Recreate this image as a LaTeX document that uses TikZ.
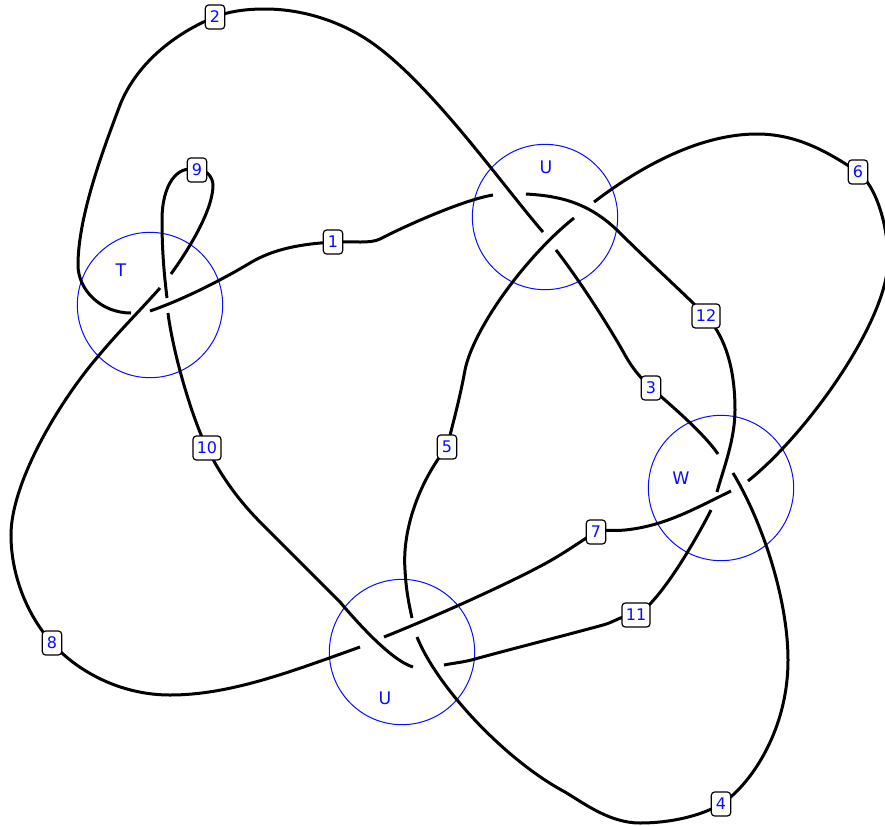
\documentclass[tikz,border=0pt]{standalone}
\usepackage{fontspec}
\setmainfont{DejaVu Sans}
\usetikzlibrary{backgrounds}
\definecolor{lab}{RGB}{10,10,255}
\tikzset{
  strand/.style={draw=black,line width=2.25pt,line cap=butt},
  ring/.style={draw=lab,circle,line width=0.75pt,minimum size=109pt,inner sep=0pt},
  tag/.style={draw=black,fill=white,rounded corners=2.5pt,line width=0.9pt,text=lab,font=\fontsize{12}{14}\selectfont,inner sep=0pt,minimum height=18pt,minimum width=14.5pt},
  tagwide/.style={tag,minimum width=21pt},
  vlabel/.style={text=lab,font=\fontsize{13}{15}\selectfont,inner sep=0pt}
}
\begin{document}
\begin{tikzpicture}[x=0.75pt,y=-0.75pt]
\useasboundingbox (0,0) rectangle (885,825);
\node[tag] (n1) at (333,242) {1};
\node[tag] (n2) at (215,17) {2};
\node[tag] (n3) at (651,388) {3};
\node[tag] (n4) at (721,804) {4};
\node[tag] (n5) at (447,447) {5};
\node[tag] (n6) at (858,172) {6};
\node[tag] (n7) at (596,532) {7};
\node[tag] (n8) at (52,643) {8};
\node[tag] (n9) at (197,170) {9};
\node[tagwide] (n10) at (207,448) {10};
\node[tagwide] (n11) at (636,615) {11};
\node[tagwide] (n12) at (706,316) {12};
\node[vlabel] (lt) at (121,270) {T};
\node[vlabel] (lu) at (546,167) {U};
\node[vlabel] (lw) at (681,478) {W};
\node[vlabel] (lv) at (385,698) {U};
\coordinate (a1) at (150,311); \coordinate (b1) at (493,195);
\coordinate (a2) at (131,313); \coordinate (b2) at (543,232);
\coordinate (a3) at (556,250); \coordinate (b3) at (718,454);
\coordinate (a4) at (733,473); \coordinate (b4) at (417,637);
\coordinate (a5) at (574,218); \coordinate (b5) at (412,618);
\coordinate (a6) at (594,202); \coordinate (b6) at (748,481);
\coordinate (a7) at (384,637); \coordinate (b7) at (731,491);
\coordinate (a8) at (360,647); \coordinate (b8) at (160,288);
\coordinate (a9) at (171,274); \coordinate (b9) at (167,298);
\coordinate (a10) at (168,313); \coordinate (b10) at (413,667);
\coordinate (a11) at (444,665); \coordinate (b11) at (711,510);
\coordinate (a12) at (526,194); \coordinate (b12) at (717,492);
\begin{scope}[on background layer]
\node[ring] (rt) at (150,305) {};
\node[ring] (ru) at (545,217) {};
\node[ring] (rw) at (721,488) {};
\node[ring] (rv) at (402,652) {};
\draw[strand] (a1) .. controls +(35,-12) and +(-25,15) .. (250,263)
  .. controls +(25,-15) and +(-30,2) .. (n1.center)
  .. controls +(20,-1) and +(-10,5) .. (380,239)
  .. controls +(25,-13) and +(-30,5) .. (b1);
\draw[strand] (a2) .. controls +(-30,0) and +(0,25) .. (78,265)
  .. controls +(0,-50) and +(-15,40) .. (120,105)
  .. controls +(18,-45) and +(-35,14) .. (n2.center)
  .. controls +(15,-6) and +(-18,0) .. (265,9)
  .. controls +(40,0) and +(-30,-22) .. (375,45)
  .. controls +(60,44) and +(-40,-46) .. (b2);
\draw[strand] (a3) .. controls +(25,32) and +(-12,-22) .. (625,355)
  .. controls +(8,14) and +(-12,-12) .. (n3.center)
  .. controls +(14,12) and +(-15,-22) .. (b3);
\draw[strand] (a4) .. controls +(30,50) and +(0,-60) .. (788,660)
  .. controls +(0,75) and +(25,-15) .. (n4.center)
  .. controls +(-20,12) and +(30,0) .. (640,823)
  .. controls +(-30,0) and +(20,12) .. (565,792)
  .. controls +(-60,-32) and +(20,50) .. (b4);
\draw[strand] (a5) .. controls +(-50,40) and +(8,-40) .. (465,370)
  .. controls +(-5,28) and +(5,-20) .. (n5.center)
  .. controls +(-28,35) and +(-3,-40) .. (405,570)
  .. controls +(1,18) and +(-4,-18) .. (b5);
\draw[strand] (a6) .. controls +(50,-38) and +(-55,0) .. (757,134)
  .. controls +(40,0) and +(-30,-20) .. (n6.center)
  .. controls +(18,14) and +(0,-35) .. (888,260)
  .. controls +(0,60) and +(60,-48) .. (b6);
\draw[strand] (a7) .. controls +(60,-24) and +(-30,18) .. (555,558)
  .. controls +(20,-12) and +(-15,9) .. (n7.center)
  .. controls +(8,-3) and +(-8,1) .. (625,530)
  .. controls +(40,-4) and +(-35,17) .. (b7);
\draw[strand] (a8) .. controls +(-70,25) and +(60,0) .. (170,695)
  .. controls +(-50,0) and +(25,28) .. (n8.center)
  .. controls +(-25,-28) and +(0,40) .. (11,535)
  .. controls +(0,-50) and +(-40,48) .. (95,360)
  .. controls +(25,-30) and +(-25,28) .. (b8);
\draw[strand] (a9) .. controls +(18,-25) and +(0,25) .. (213,185)
  .. controls +(0,-8) and +(8,-2) .. (n9.center)
  .. controls +(-20,-6) and +(0,-35) .. (162,220)
  .. controls +(0,30) and +(-3,-25) .. (b9);
\draw[strand] (a10) .. controls +(5,40) and +(-15,-30) .. (n10.center)
  .. controls +(15,30) and +(-22,-22) .. (262,524)
  .. controls +(25,25) and +(-25,-25) .. (340,602)
  .. controls +(22,26) and +(-20,-6) .. (b10);
\draw[strand] (a11) .. controls +(10,-2) and +(-10,3) .. (475,659)
  .. controls +(40,-11) and +(-40,11) .. (603,625)
  .. controls +(12,-3) and +(-15,0) .. (n11.center)
  .. controls +(22,-10) and +(-15,30) .. (b11);
\draw[strand] (a12) .. controls +(35,2) and +(-30,-30) .. (620,233)
  .. controls +(28,28) and +(-14,-15) .. (n12.center)
  .. controls +(15,16) and +(0,-50) .. (735,410)
  .. controls +(0,30) and +(6,-22) .. (b12);
\end{scope}
\end{tikzpicture}
\end{document}
